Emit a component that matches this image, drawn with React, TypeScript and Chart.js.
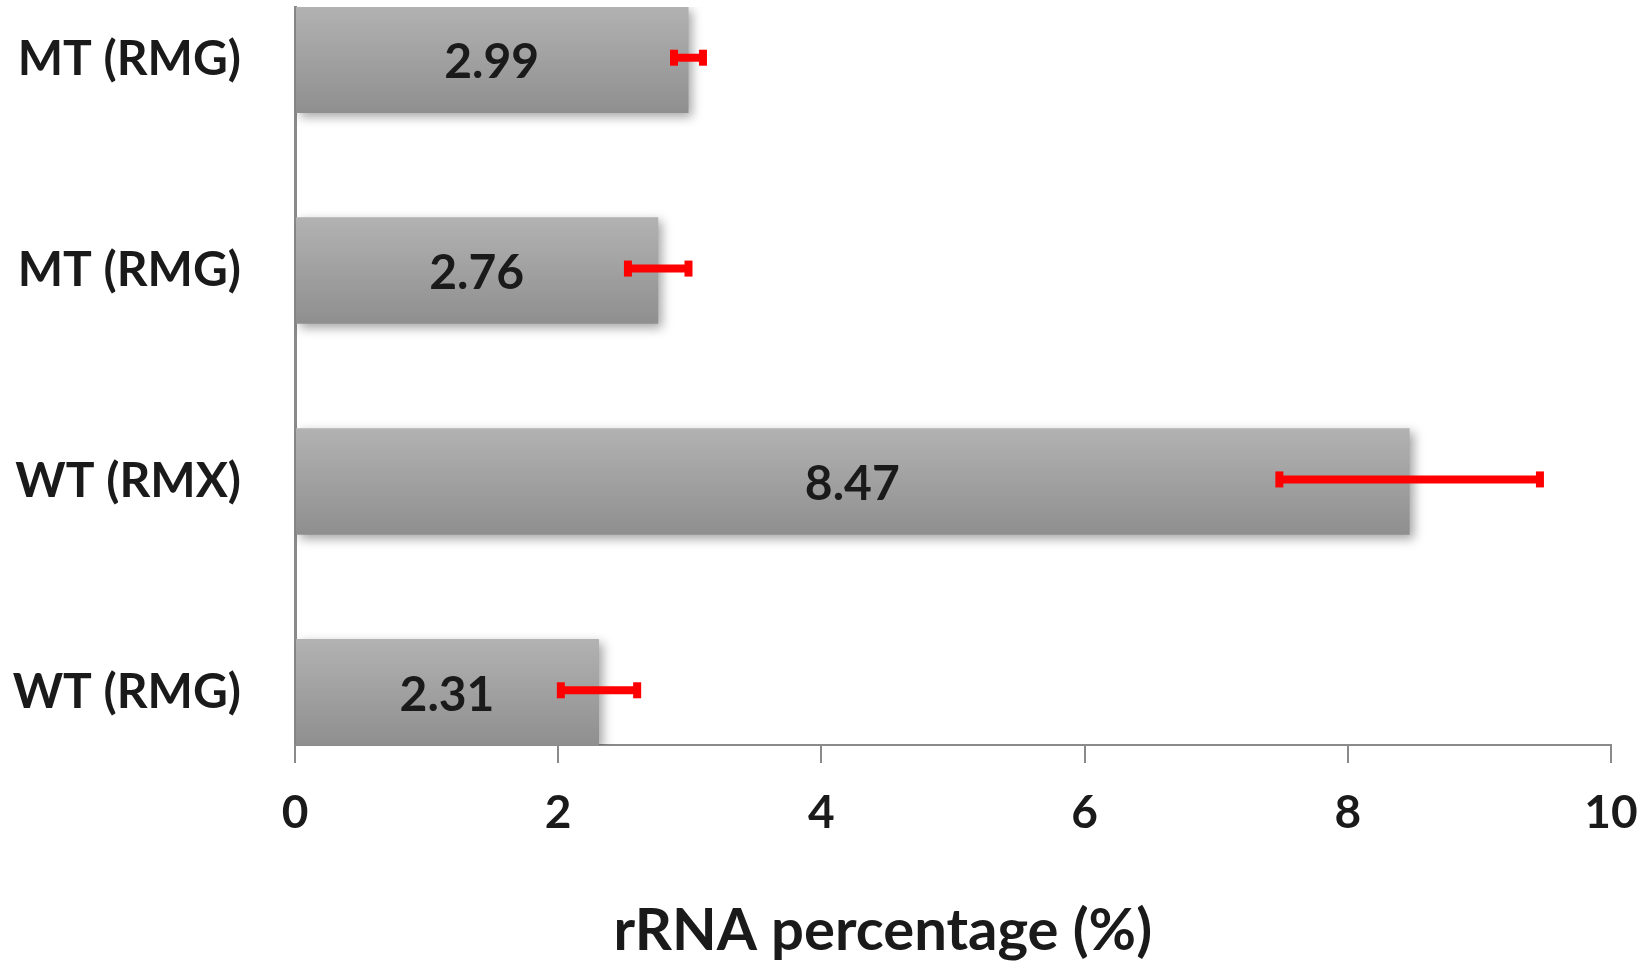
import React, { useEffect, useRef } from "react";
import { Chart, registerables } from "chart.js";

Chart.register(...registerables);

// Categories listed bottom-to-top
const categories = ["WT (RMG)", "WT (RMX)", "MT (RMG)", "MT (RMG)"];
const values = [2.31, 8.47, 2.76, 2.99];
const errors = [0.29, 0.99, 0.23, 0.11];
const xTicks = [0, 2, 4, 6, 8, 10];
const axisTitle = "rRNA percentage (%)";

const FONT = "Lato, 'Open Sans', sans-serif";
const TEXT = "#1a1a1a";
const AXIS = "#8a8a8a";
const Y_MIN = -0.25;
const Y_MAX = 3.25;

export default function App() {
  const ref = useRef<HTMLCanvasElement>(null);

  useEffect(() => {
    document.body.style.margin = "0";
    const canvas = ref.current;
    if (!canvas) return;

    const shadowPlugin = {
      id: "barShadow",
      beforeDatasetsDraw(chart: any) {
        const c = chart.ctx;
        c.save();
        c.shadowColor = "rgba(0,0,0,0.35)";
        c.shadowBlur = 10;
        c.shadowOffsetX = 4;
        c.shadowOffsetY = 4;
      },
      afterDatasetsDraw(chart: any) {
        chart.ctx.restore();
      },
    };

    const overlayPlugin = {
      id: "overlay",
      afterDatasetsDraw(chart: any) {
        const { ctx } = chart;
        const x = chart.scales.x;
        const y = chart.scales.y;
        ctx.save();
        values.forEach((v, i) => {
          const py = y.getPixelForValue(i) - 2;
          const x1 = x.getPixelForValue(v - errors[i]);
          const x2 = x.getPixelForValue(v + errors[i]);
          ctx.strokeStyle = "#ff0000";
          ctx.lineWidth = 8;
          ctx.beginPath();
          ctx.moveTo(x1, py);
          ctx.lineTo(x2, py);
          ctx.stroke();
          ctx.fillStyle = "#ff0000";
          ctx.fillRect(x1 - 4, py - 8, 8, 16);
          ctx.fillRect(x2 - 4, py - 8, 8, 16);
        });
        ctx.fillStyle = TEXT;
        ctx.font = `bold 48px ${FONT}`;
        ctx.textAlign = "center";
        ctx.textBaseline = "middle";
        values.forEach((v, i) => {
          const cx = (x.getPixelForValue(0) + x.getPixelForValue(v)) / 2;
          ctx.fillText(v.toFixed(2), cx, y.getPixelForValue(i) + 3);
        });
        ctx.restore();
      },
      afterDraw(chart: any) {
        const { ctx } = chart;
        ctx.save();
        ctx.fillStyle = TEXT;
        ctx.font = `bold 58px ${FONT}`;
        ctx.textAlign = "center";
        ctx.textBaseline = "middle";
        ctx.fillText(axisTitle, chart.width * 0.537, chart.height - 35);
        ctx.restore();
      },
    };

    const chart = new Chart(canvas, {
      type: "bar",
      data: {
        datasets: [
          {
            data: values.map((v, i) => ({ x: v, y: i })),
            backgroundColor: (ctx: any) => {
              const ch = ctx.chart;
              const ys = ch.scales && ch.scales.y;
              if (!ys || ctx.dataIndex == null) return "#a0a0a0";
              const i = ctx.dataIndex;
              const top = ys.getPixelForValue(i + 0.25);
              const bot = ys.getPixelForValue(i - 0.25);
              if (!isFinite(top) || !isFinite(bot) || top === bot) return "#a0a0a0";
              const g = ch.ctx.createLinearGradient(0, top, 0, bot);
              g.addColorStop(0, "#b2b2b2");
              g.addColorStop(1, "#8f8f8f");
              return g;
            },
            borderWidth: 0,
            barPercentage: 0.505,
            categoryPercentage: 1,
          },
        ],
      },
      options: {
        indexAxis: "y",
        responsive: true,
        maintainAspectRatio: false,
        animation: false,
        layout: { padding: { top: 7, right: 33, left: 0, bottom: 0 } },
        plugins: {
          legend: { display: false },
          tooltip: { enabled: false },
          title: { display: false },
        },
        scales: {
          x: {
            type: "linear",
            min: 0,
            max: 10,
            afterBuildTicks: (s: any) => {
              s.ticks = xTicks.map((v) => ({ value: v }));
            },
            ticks: {
              font: { family: FONT, size: 46, weight: "bold" },
              color: TEXT,
              padding: 23,
            },
            grid: {
              drawOnChartArea: false,
              drawTicks: true,
              tickLength: 18,
              color: AXIS,
              lineWidth: 2,
            },
            border: { display: true, color: AXIS, width: 2 },
            afterFit: (s: any) => {
              s.height = 221;
              s.paddingLeft = 0;
              s.paddingRight = 0;
            },
          },
          y: {
            type: "linear",
            min: Y_MIN,
            max: Y_MAX,
            offset: false,
            bounds: "data",
            grace: 0,
            afterDataLimits: (s: any) => {
              s.min = Y_MIN;
              s.max = Y_MAX;
            },
            afterBuildTicks: (s: any) => {
              s.ticks = categories.map((_, i) => ({ value: i }));
              s.min = Y_MIN;
              s.max = Y_MAX;
            },
            ticks: {
              callback: (v: any) => categories[v as number],
              font: { family: FONT, size: 48, weight: "bold" },
              color: TEXT,
              padding: 54,
            },
            grid: { display: false, drawTicks: false, offset: false },
            border: { display: true, color: AXIS, width: 3 },
            afterFit: (s: any) => {
              s.width = 295;
              s.paddingTop = 0;
              s.paddingBottom = 0;
            },
          },
        },
      } as any,
      plugins: [shadowPlugin, overlayPlugin],
    });

    return () => chart.destroy();
  }, []);

  return (
    <div style={{ position: "relative", width: 1644, height: 966 }}>
      <canvas ref={ref} />
    </div>
  );
}
